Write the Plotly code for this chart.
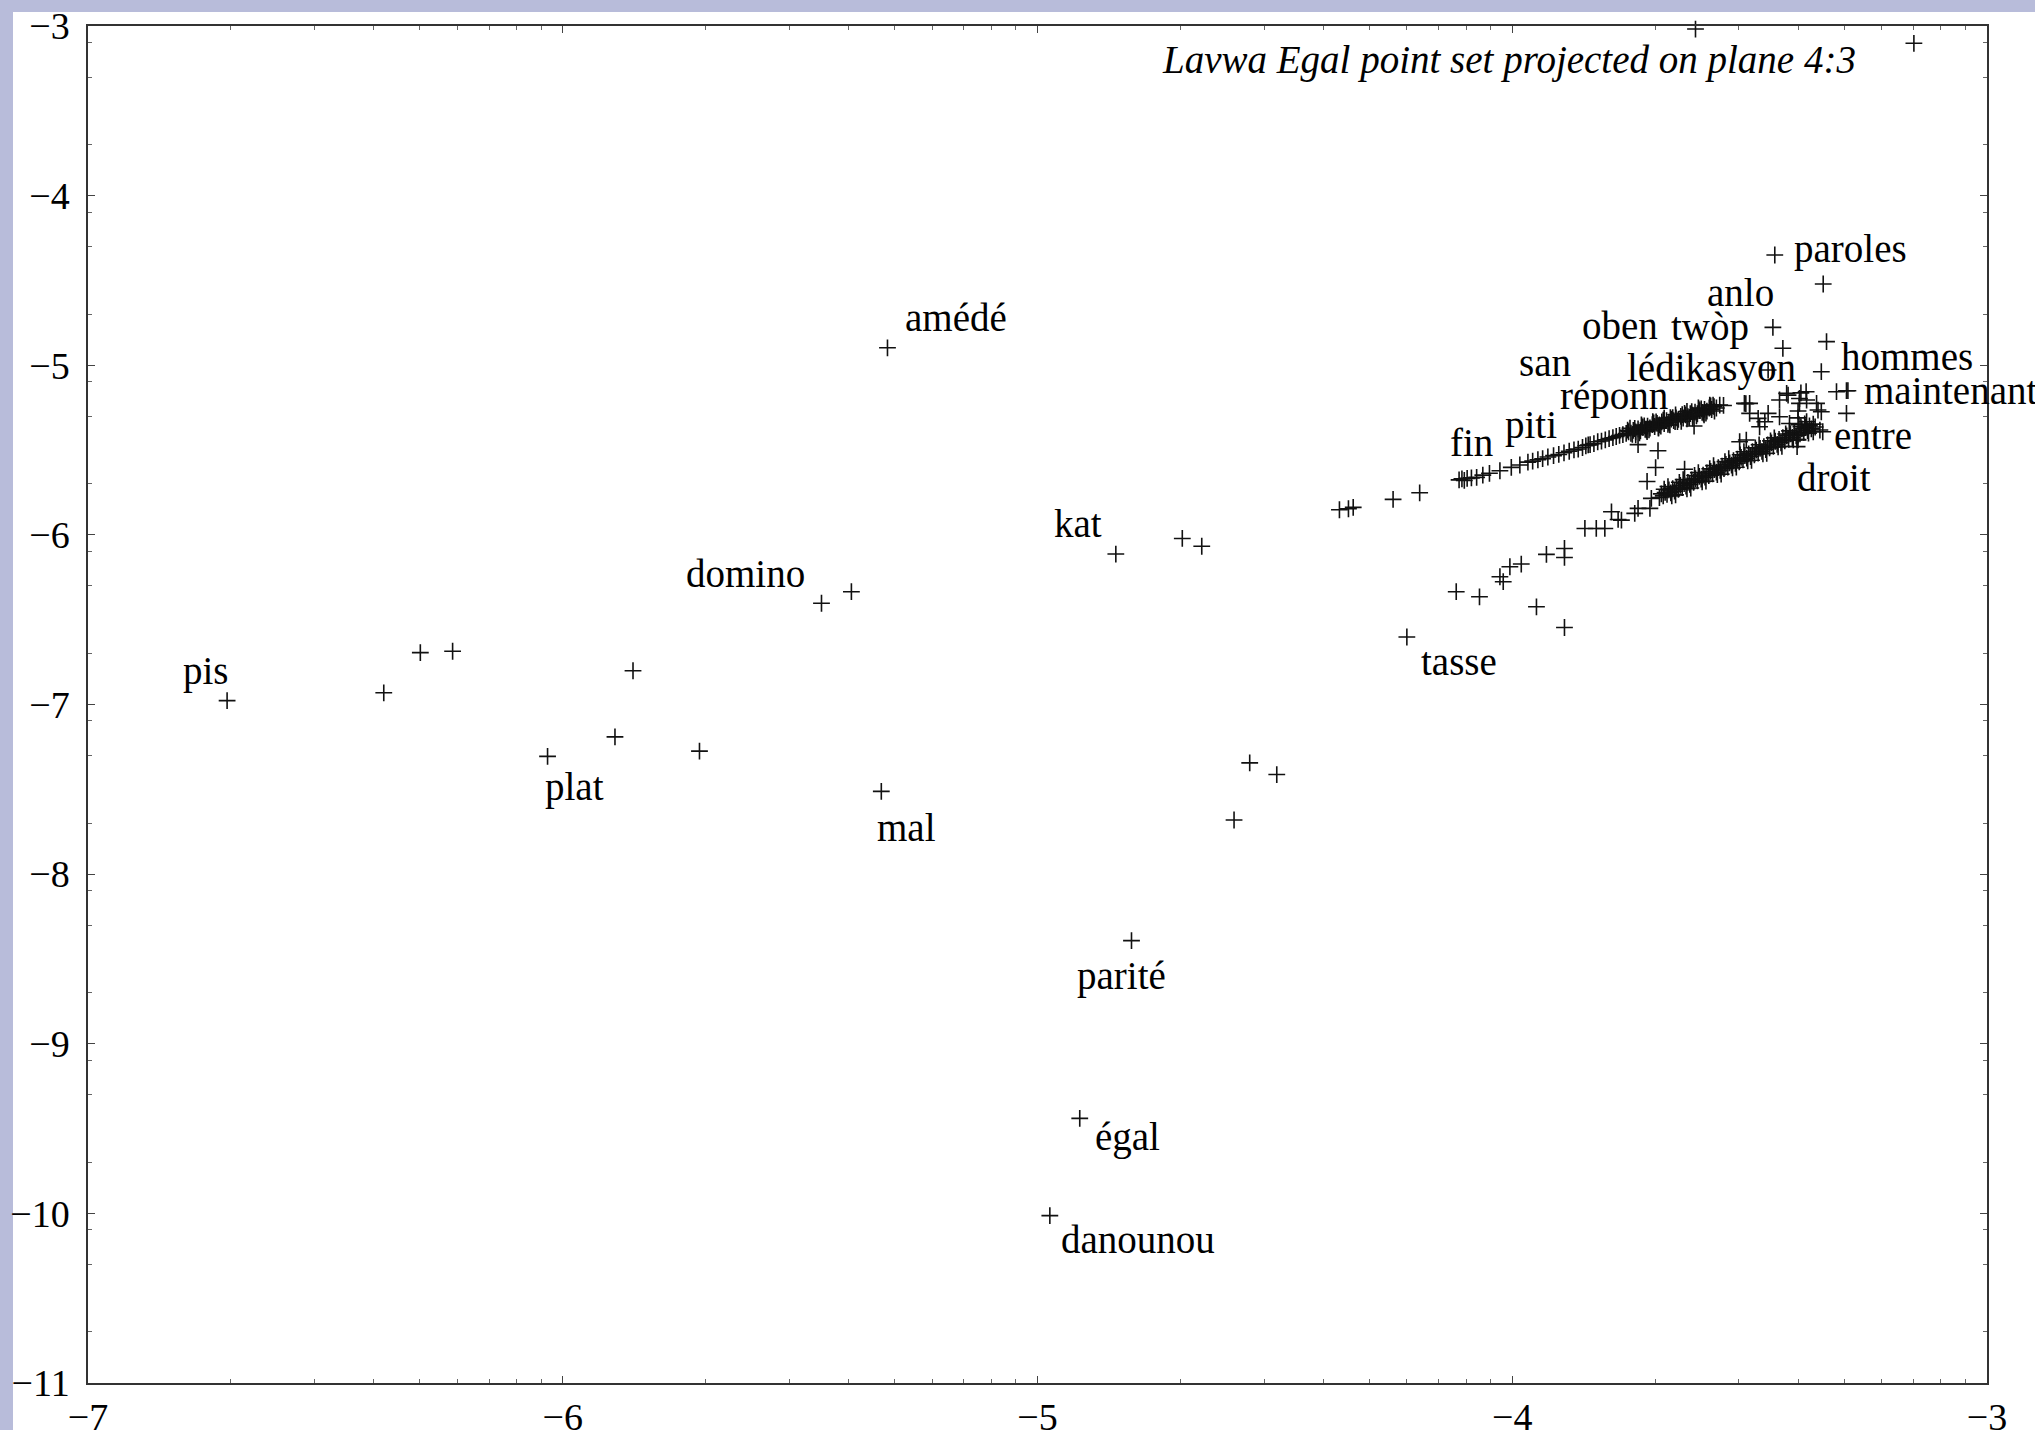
import math
import plotly.graph_objects as go

# ---- data -------------------------------------------------------------
# labelled words and the point each word belongs to
label_words = ["paroles", "anlo", "twòp", "oben", "san", "lédikasyon", "hommes",
               "maintenant", "réponn", "piti", "fin", "entre", "droit", "amédé",
               "kat", "domino", "pis", "plat", "mal", "tasse", "parité", "égal",
               "danounou"]
label_x = [-3.447, -3.451, -3.430, -3.555, -3.760, -3.461, -3.338,
           -3.293, -3.700, -3.891, -4.112, -3.296, -3.346, -5.316,
           -4.835, -5.455, -6.707, -6.032, -5.329, -4.222, -4.802, -4.911,
           -4.974]
label_y = [-4.350, -4.777, -4.900, -5.237, -5.402, -5.028, -4.861,
           -5.150, -5.361, -5.516, -5.676, -5.284, -5.392, -4.897,
           -6.113, -6.403, -6.977, -7.306, -7.512, -6.602, -8.392, -9.440,
           -10.013]

# isolated points on the left / middle of the plane
scatter_pts = [
    (-6.377, -6.931), (-6.300, -6.694), (-6.232, -6.686), (-5.852, -6.801),
    (-5.890, -7.191), (-5.712, -7.275), (-5.392, -6.335), (-4.695, -6.021),
    (-4.654, -6.067), (-4.553, -7.344), (-4.496, -7.413), (-4.586, -7.681),
    (-4.364, -5.852), (-4.345, -5.846), (-4.335, -5.838), (-4.251, -5.791),
    (-4.195, -5.752), (-3.614, -3.018), (-3.154, -3.102),
]

# points in the upper-right corner
corner_pts = [
    (-3.345, -4.521), (-3.349, -5.038), (-3.317, -5.156), (-3.296, -5.150),
    (-3.422, -5.166), (-3.392, -5.163), (-3.381, -5.156), (-3.419, -5.176),
    (-3.437, -5.205), (-3.500, -5.225), (-3.511, -5.225), (-3.395, -5.225),
    (-3.359, -5.225), (-3.349, -5.274), (-3.352, -5.382), (-3.461, -5.284),
    (-3.482, -5.313), (-3.468, -5.333), (-3.521, -5.451), (-3.395, -5.196),
    (-3.380, -5.205), (-3.356, -5.264), (-3.500, -5.284), (-3.398, -5.270),
    (-3.398, -5.310), (-3.396, -5.350), (-3.398, -5.440), (-3.400, -5.480),
    (-3.437, -5.304), (-3.416, -5.343), (-3.380, -5.333), (-3.366, -5.392),
    (-3.398, -5.412), (-3.479, -5.363), (-3.507, -5.441), (-3.508, -5.226),
    (-3.617, -5.358), (-3.735, -5.468), (-3.693, -5.504), (-3.698, -5.603),
    (-3.637, -5.613), (-3.716, -5.685),
]

# upper branch (fin … réponn)
upper_band = [
    (-4.106, -5.670), (-4.101, -5.679), (-4.095, -5.667), (-4.086, -5.664),
    (-4.075, -5.661), (-4.062, -5.648), (-4.048, -5.637), (-4.026, -5.622),
    (-4.002, -5.602), (-3.984, -5.588), (-3.967, -5.571), (-3.957, -5.565),
    (-3.946, -5.557), (-3.936, -5.551), (-3.925, -5.541), (-3.913, -5.533),
    (-3.902, -5.526), (-3.880, -5.507), (-3.870, -5.499), (-3.861, -5.494),
    (-3.852, -5.485), (-3.845, -5.475), (-3.840, -5.470), (-3.836, -5.468),
    (-3.828, -5.462), (-3.820, -5.451), (-3.812, -5.447), (-3.804, -5.440),
    (-3.796, -5.432), (-3.788, -5.427), (-3.781, -5.420), (-3.774, -5.414),
    (-3.767, -5.409), (-3.755, -5.392), (-3.750, -5.401), (-3.745, -5.384),
    (-3.740, -5.393), (-3.735, -5.375), (-3.730, -5.386), (-3.725, -5.366),
    (-3.720, -5.378), (-3.715, -5.359), (-3.710, -5.370), (-3.705, -5.350),
    (-3.695, -5.343), (-3.690, -5.352), (-3.685, -5.334), (-3.680, -5.344),
    (-3.675, -5.326), (-3.670, -5.336), (-3.665, -5.318), (-3.660, -5.327),
    (-3.655, -5.310), (-3.650, -5.319), (-3.645, -5.301), (-3.640, -5.311),
    (-3.635, -5.293), (-3.630, -5.303), (-3.625, -5.285), (-3.620, -5.294),
    (-3.615, -5.276), (-3.610, -5.286), (-3.605, -5.268), (-3.600, -5.278),
    (-3.595, -5.260), (-3.590, -5.270), (-3.585, -5.252), (-3.580, -5.261),
    (-3.575, -5.244), (-3.570, -5.252), (-3.742, -5.373), (-3.732, -5.398),
    (-3.722, -5.357), (-3.712, -5.381), (-3.702, -5.340), (-3.692, -5.366),
    (-3.682, -5.323), (-3.672, -5.349), (-3.662, -5.309), (-3.652, -5.332),
    (-3.642, -5.291), (-3.632, -5.316), (-3.622, -5.273), (-3.612, -5.298),
    (-3.602, -5.257), (-3.592, -5.282), (-3.582, -5.240), (-3.563, -5.235),
    (-3.757, -5.383), (-3.747, -5.408), (-3.727, -5.359), (-3.717, -5.383),
    (-3.697, -5.334), (-3.687, -5.359), (-3.667, -5.309), (-3.657, -5.332),
    (-3.637, -5.284), (-3.627, -5.308), (-3.607, -5.259), (-3.597, -5.283),
    (-3.577, -5.235),
    (-3.752, -5.371), (-3.740, -5.410), (-3.728, -5.352), (-3.716, -5.391),
    (-3.704, -5.332), (-3.692, -5.371), (-3.680, -5.312), (-3.668, -5.351),
    (-3.656, -5.292), (-3.644, -5.331), (-3.632, -5.272), (-3.620, -5.311),
    (-3.608, -5.252), (-3.596, -5.292), (-3.584, -5.235), (-3.574, -5.270),
]

# lower branch (tasse … droit)
lower_band = [
    (-4.118, -6.335), (-4.069, -6.365), (-3.949, -6.424), (-3.890, -6.546),
    (-4.026, -6.247), (-4.019, -6.276), (-4.005, -6.188), (-3.981, -6.172),
    (-3.928, -6.115), (-3.890, -6.080), (-3.890, -6.133), (-3.847, -5.962),
    (-3.823, -5.962), (-3.805, -5.962), (-3.791, -5.864), (-3.777, -5.909),
    (-3.770, -5.913), (-3.742, -5.873), (-3.735, -5.844), (-3.710, -5.844),
    (-3.707, -5.785),
    (-3.690, -5.780), (-3.686, -5.758), (-3.682, -5.770), (-3.678, -5.750),
    (-3.674, -5.761), (-3.670, -5.735), (-3.666, -5.752), (-3.662, -5.728),
    (-3.658, -5.742), (-3.654, -5.719), (-3.650, -5.731), (-3.646, -5.708),
    (-3.642, -5.722), (-3.638, -5.697), (-3.634, -5.712), (-3.630, -5.690),
    (-3.626, -5.702), (-3.622, -5.676), (-3.618, -5.691), (-3.614, -5.668),
    (-3.610, -5.682), (-3.606, -5.655), (-3.602, -5.671), (-3.598, -5.648),
    (-3.594, -5.660), (-3.590, -5.635), (-3.586, -5.651), (-3.582, -5.626),
    (-3.578, -5.640), (-3.574, -5.615), (-3.570, -5.630), (-3.566, -5.604),
    (-3.562, -5.620), (-3.558, -5.595), (-3.554, -5.610), (-3.550, -5.584),
    (-3.546, -5.600), (-3.542, -5.575), (-3.538, -5.589), (-3.534, -5.563),
    (-3.530, -5.579), (-3.526, -5.553), (-3.522, -5.569), (-3.518, -5.543),
    (-3.514, -5.558), (-3.510, -5.532), (-3.506, -5.548), (-3.502, -5.522),
    (-3.498, -5.538), (-3.494, -5.510), (-3.490, -5.528), (-3.486, -5.500),
    (-3.482, -5.518), (-3.478, -5.490), (-3.474, -5.508), (-3.470, -5.480),
    (-3.466, -5.497), (-3.462, -5.470), (-3.458, -5.487), (-3.454, -5.458),
    (-3.450, -5.478), (-3.446, -5.448), (-3.442, -5.467), (-3.438, -5.437),
    (-3.434, -5.457), (-3.430, -5.427), (-3.426, -5.446), (-3.422, -5.416),
    (-3.418, -5.437), (-3.414, -5.405), (-3.410, -5.426), (-3.406, -5.395),
    (-3.402, -5.416), (-3.394, -5.405), (-3.390, -5.375), (-3.386, -5.396),
    (-3.382, -5.366), (-3.378, -5.385), (-3.374, -5.357), (-3.370, -5.375),
    (-3.366, -5.347), (-3.362, -5.364),
    (-3.680, -5.731), (-3.664, -5.770), (-3.648, -5.690), (-3.632, -5.728),
    (-3.616, -5.650), (-3.600, -5.687), (-3.584, -5.610), (-3.568, -5.645),
    (-3.552, -5.568), (-3.536, -5.605), (-3.520, -5.528), (-3.504, -5.563),
    (-3.488, -5.487), (-3.472, -5.522), (-3.456, -5.446), (-3.440, -5.481),
    (-3.424, -5.405), (-3.408, -5.440), (-3.392, -5.362), (-3.376, -5.400),
    (-3.672, -5.715), (-3.656, -5.764), (-3.640, -5.674), (-3.624, -5.724),
    (-3.608, -5.633), (-3.592, -5.683), (-3.576, -5.592), (-3.560, -5.642),
    (-3.544, -5.551), (-3.528, -5.601), (-3.512, -5.510), (-3.496, -5.560),
    (-3.480, -5.469), (-3.464, -5.519), (-3.448, -5.428), (-3.432, -5.478),
    (-3.416, -5.387), (-3.400, -5.437), (-3.384, -5.346),
]

x_ticks = [-7, -6, -5, -4, -3]
y_ticks = [-3, -4, -5, -6, -7, -8, -9, -10, -11]
title_text = "Lavwa Egal point set projected on plane 4:3"

# ---- styling ----------------------------------------------------------
FONT = "Liberation Serif"
INK = "#111111"
LAVENDER = "#b8bcda"

# label placement relative to its point (px right, px down)
LABEL_OFFSETS = {
    "paroles": (76, -6), "anlo": (-32, -35), "twòp": (-73, -21),
    "oben": (-104, -80), "san": (-81, -71), "lédikasyon": (-57, -2),
    "hommes": (80, 15), "maintenant": (103, 0), "réponn": (-41, -30),
    "piti": (-33, -28), "fin": (12, -37), "entre": (27, 22),
    "droit": (11, 46), "amédé": (69, -30), "kat": (-38, -31),
    "domino": (-76, -30), "pis": (-21, -30), "plat": (27, 31),
    "mal": (25, 36), "tasse": (52, 25), "parité": (-10, 35),
    "égal": (48, 19), "danounou": (88, 24),
}

all_x = list(label_x)
all_y = list(label_y)
for group in (scatter_pts, corner_pts, upper_band, lower_band):
    all_x += [p[0] for p in group]
    all_y += [p[1] for p in group]

fig = go.Figure()
fig.add_trace(go.Scatter(
    x=all_x, y=all_y, mode="markers", cliponaxis=False,
    marker=dict(symbol="cross-thin", size=12, color=INK,
                line=dict(color=INK, width=1.6)),
    hoverinfo="skip", showlegend=False,
))

annotations = []
for w, px, py in zip(label_words, label_x, label_y):
    dx, dy = LABEL_OFFSETS[w]
    annotations.append(dict(
        x=px, y=py, xref="x", yref="y", text=w, showarrow=False,
        xanchor="center", yanchor="middle", xshift=dx, yshift=-dy,
        font=dict(family=FONT, size=39, color="#000000"),
    ))
annotations.append(dict(
    x=0.9323, y=0.9753, xref="paper", yref="paper",
    text="<i>" + title_text + "</i>", showarrow=False,
    xanchor="right", yanchor="middle",
    font=dict(family=FONT, size=39, color="#000000"),
))

# minor ticks in a logarithmic pattern inside each unit interval
x_minor = [n + math.log10(k) for n in range(-7, -3) for k in range(2, 10)]
y_minor = [n + math.log10(k) for n in range(-11, -3) for k in (2, 5, 8)]

axis_common = dict(
    showgrid=False, zeroline=False, showline=True, linecolor="#333333",
    linewidth=1.5, mirror="ticks", ticks="inside", ticklen=7, tickwidth=1,
    tickcolor="#444444", automargin=False,
    tickfont=dict(family=FONT, size=38, color="#000000"),
)

fig.update_layout(
    width=2035, height=1430,
    margin=dict(l=88, r=48, t=26, b=47, pad=0),
    paper_bgcolor="white", plot_bgcolor="white",
    xaxis=dict(range=[-7, -3], tickmode="array", tickvals=x_ticks,
               ticklabelstandoff=0,
               minor=dict(tickmode="array", tickvals=x_minor, ticks="inside",
                          ticklen=4, tickcolor="#666666", tickwidth=1),
               **axis_common),
    yaxis=dict(range=[-11, -3], tickmode="array", tickvals=y_ticks,
               ticklabelstandoff=9,
               minor=dict(tickmode="array", tickvals=y_minor, ticks="inside",
                          ticklen=4, tickcolor="#666666", tickwidth=1),
               **axis_common),
    annotations=annotations,
    shapes=[
        dict(type="rect", xref="paper", yref="paper", layer="below",
             x0=-0.1, x1=1.1, y0=(1383 - 12) / 1357, y1=1.1,
             fillcolor=LAVENDER, line=dict(width=0)),
        dict(type="rect", xref="paper", yref="paper", layer="below",
             x0=-0.1, x1=(13 - 88) / 1899, y0=-0.1, y1=1.1,
             fillcolor=LAVENDER, line=dict(width=0)),
    ],
)

fig.write_html("out.html")
